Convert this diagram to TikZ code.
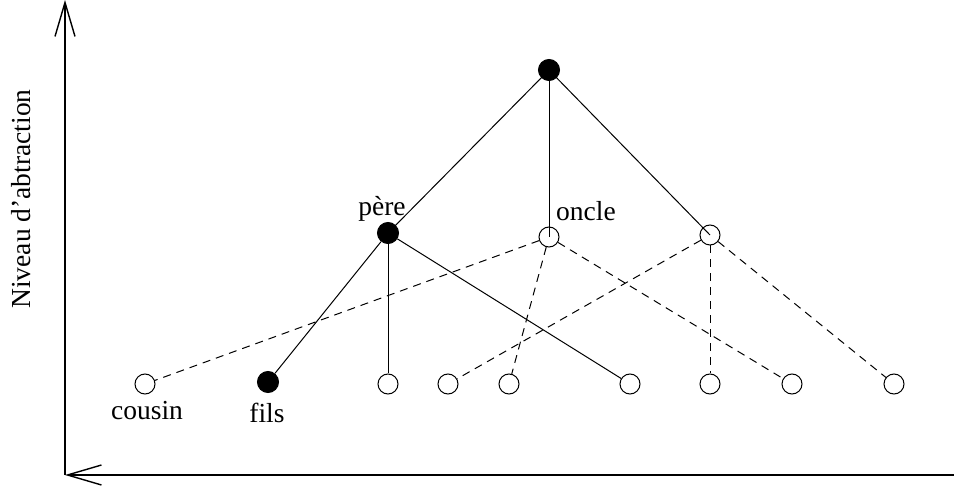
\documentclass[tikz,border=0pt]{standalone}
\usepackage{fontspec}
\setmainfont{Liberation Serif}
\usetikzlibrary{arrows.meta}
\begin{document}
\begin{tikzpicture}[x=1pt,y=-1pt,
  open/.style={circle,draw,line width=1pt,minimum size=20pt,inner sep=0pt,fill=white},
  full/.style={circle,draw,fill=black,line width=1pt,minimum size=21pt,inner sep=0pt},
  lbl/.style={font=\fontsize{27.5}{32}\selectfont,inner sep=0pt},
  edge/.style={line width=1pt},
  dedge/.style={line width=1pt,dash pattern=on 8pt off 6pt},
  axis/.style={line width=1.4pt,-{Straight Barb[length=34pt,width=20pt,line width=1.4pt]}}]
\useasboundingbox (0,0) rectangle (954,486);
% axes
\coordinate (o) at (65,475);
\coordinate (ytop) at (65,0);
\coordinate (xr) at (954,475);
\draw[axis] (o) -- (ytop);
\draw[axis] (xr) -- (o);
\node[lbl,rotate=90] (ylab) at (21,199) {Niveau d'abtraction};
% coordinates of nodes
\coordinate (pT) at (549,70);
\coordinate (pP) at (388,233);
\coordinate (pO) at (549,237);
\coordinate (pR) at (710,235);
% edges (solid to centers)
\draw[edge] (pT) -- (pP);
\draw[edge] (pT) -- (pO);
\draw[edge] (pT) -- (pR);
% bottom nodes
\node[open] (b1) at (145,384) {};
\node[full] (b2) at (268,382) {};
\node[open] (b3) at (388,384) {};
\node[open] (b4) at (448,384) {};
\node[open] (b5) at (509,384) {};
\node[open] (b6) at (630,384) {};
\node[open] (b7) at (710,384) {};
\node[open] (b8) at (792,384) {};
\node[open] (b9) at (894,384) {};
% middle and top nodes
\node[open,fill=none] (oncle) at (pO) {};
\node[open,fill=none] (right) at (pR) {};
\node[full] (top) at (pT) {};
\node[full] (pere) at (pP) {};
% père edges
\draw[edge] (pere) -- (b2);
\draw[edge] (pere) -- (b3);
\draw[edge] (pere) -- (b6);
% dashed edges
\draw[dedge] (oncle) -- (b1);
\draw[dedge] (oncle) -- (b5);
\draw[dedge] (oncle) -- (b8);
\draw[dedge] (right) -- (b4);
\draw[dedge] (right) -- (b7);
\draw[dedge] (right) -- (b9);
% labels
\node[lbl] (lpere) at (382,209) {père};
\node[lbl] (loncle) at (586,211) {oncle};
\node[lbl] (lcousin) at (147,411) {cousin};
\node[lbl] (lfils) at (267,413) {fils};
\end{tikzpicture}
\end{document}
